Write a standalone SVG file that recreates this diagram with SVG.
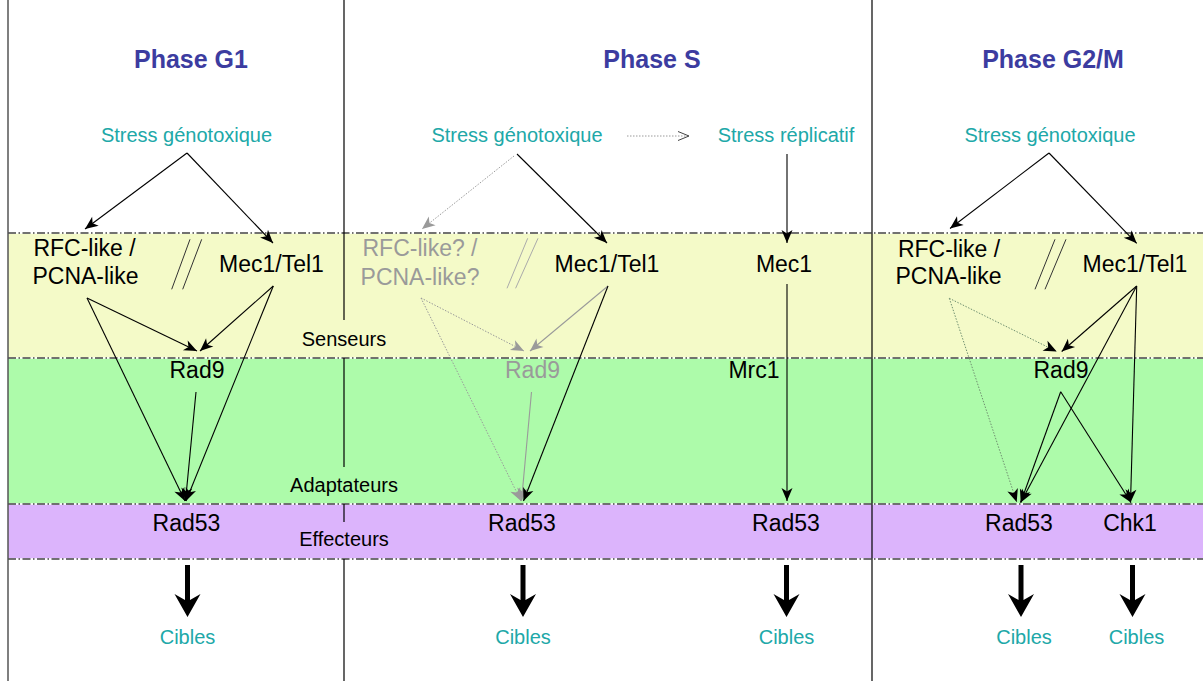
<svg xmlns="http://www.w3.org/2000/svg" width="1203" height="681" viewBox="0 0 1203 681">
<style>
text{font-family:"Liberation Sans",Arial,sans-serif;text-anchor:middle}
.title{font-size:25px;font-weight:bold;fill:#3c3ca0}
.stress{font-size:20px;fill:#20a8a8}
.lbl{font-size:23px;fill:#000}
.gray{font-size:23px;fill:#9a9a9a}
.band{font-size:20px;fill:#000}
.c{fill:none;stroke:#000;stroke-width:1.1}
.cg{fill:none;stroke:#9a9a9a;stroke-width:1.1}
.dot{fill:none;stroke:#9a9a9a;stroke-width:1;stroke-dasharray:1.5 1.5}
.dotd{fill:none;stroke:#6f8f6f;stroke-width:1;stroke-dasharray:1.5 1.5}
.sl{stroke:#333;stroke-width:1}
.slg{stroke:#aaa;stroke-width:1}
.bnd{stroke:#fff;stroke-width:1.5}
.dash{stroke:#444;stroke-width:1.3;stroke-dasharray:8 2.5 1.5 2.5}
.div{stroke:#000;stroke-width:1.2}
</style>
<defs>
<marker id="ah" markerUnits="userSpaceOnUse" markerWidth="14" markerHeight="12" refX="13" refY="5.5" orient="auto" overflow="visible">
<path d="M0,0 L13,5.5 L0,11 L3.5,5.5 z" fill="#000"/>
</marker>
<marker id="ahg" markerUnits="userSpaceOnUse" markerWidth="14" markerHeight="12" refX="13" refY="5.5" orient="auto" overflow="visible">
<path d="M0,0 L13,5.5 L0,11 L3.5,5.5 z" fill="#9a9a9a"/>
</marker>
<marker id="aho" markerUnits="userSpaceOnUse" markerWidth="12" markerHeight="10" refX="11" refY="4.5" orient="auto" overflow="visible">
<path d="M0,0 L11,4.5 L0,9" fill="none" stroke="#444" stroke-width="1"/>
</marker>
</defs>
<rect width="1203" height="681" fill="#fff"/>
<g id="bands">
<rect x="8" y="233" width="1195" height="125" fill="#f4fac8"/>
<rect x="8" y="358" width="1195" height="146" fill="#adfbaa"/>
<rect x="8" y="504" width="1195" height="55" fill="#dcb4fc"/>
<g>
<line class="bnd" x1="8" y1="233" x2="1203" y2="233"/>
<line class="bnd" x1="8" y1="358" x2="1203" y2="358"/>
<line class="bnd" x1="8" y1="504" x2="1203" y2="504"/>
<line class="bnd" x1="8" y1="559" x2="1203" y2="559"/>
<line class="dash" x1="8" y1="233" x2="1203" y2="233"/>
<line class="dash" x1="8" y1="358" x2="1203" y2="358"/>
<line class="dash" x1="8" y1="504" x2="1203" y2="504"/>
<line class="dash" x1="8" y1="559" x2="1203" y2="559"/>
</g>
</g>
<g id="dividers">
<line x1="8" y1="0" x2="8" y2="681" stroke="#555" stroke-width="1.5"/>
<line class="div" x1="344" y1="0" x2="344" y2="320"/>
<line class="div" x1="344" y1="358" x2="344" y2="467"/>
<line class="div" x1="344" y1="504" x2="344" y2="522"/>
<line class="div" x1="344" y1="559" x2="344" y2="681"/>
<line class="div" x1="872" y1="0" x2="872" y2="681"/>
</g>
<g id="band-labels">
<text class="band" x="344" y="346">Senseurs</text>
<text class="band" x="344" y="492">Adaptateurs</text>
<text class="band" x="344" y="546">Effecteurs</text>
</g>
<g id="titles">
<text class="title" x="191" y="68">Phase G1</text>
<text class="title" x="652" y="68">Phase S</text>
<text class="title" x="1053" y="68">Phase G2/M</text>
</g>
<!-- G1 nodes -->
<g id="g1-stress"><text class="stress" x="186.5" y="142">Stress génotoxique</text></g>
<g id="g1-rfc"><text class="lbl" x="84.5" y="256">RFC-like /</text><text class="lbl" x="85.5" y="284">PCNA-like</text></g>
<g id="g1-sep"><line class="sl" x1="171.7" y1="289.3" x2="190" y2="239.3"/><line class="sl" x1="182.7" y1="289.3" x2="201.7" y2="239.3"/></g>
<g id="g1-mec1tel1"><text class="lbl" x="271.5" y="272">Mec1/Tel1</text></g>
<g id="g1-rad9"><text class="lbl" x="197" y="378">Rad9</text></g>
<g id="g1-rad53"><text class="lbl" x="186.5" y="530.5">Rad53</text></g>
<g id="g1-cibles"><text class="stress" x="187.5" y="644">Cibles</text></g>
<!-- S nodes -->
<g id="s-stress"><text class="stress" x="517" y="142">Stress génotoxique</text></g>
<g id="s-stressrep"><text class="stress" x="786" y="142">Stress réplicatif</text></g>
<g id="s-rfc"><text class="gray" x="420" y="256">RFC-like? /</text><text class="gray" x="420" y="284.5">PCNA-like?</text></g>
<g id="s-sep"><line class="slg" x1="507" y1="288.3" x2="527.7" y2="238.3"/><line class="slg" x1="515.6" y1="288.3" x2="538" y2="238.3"/></g>
<g id="s-mec1tel1"><text class="lbl" x="607" y="272">Mec1/Tel1</text></g>
<g id="s-mec1"><text class="lbl" x="784" y="272">Mec1</text></g>
<g id="s-rad9"><text class="gray" x="532.5" y="378">Rad9</text></g>
<g id="s-mrc1"><text class="lbl" x="754" y="378">Mrc1</text></g>
<g id="s-rad53a"><text class="lbl" x="522" y="530.5">Rad53</text></g>
<g id="s-rad53b"><text class="lbl" x="786" y="530.5">Rad53</text></g>
<g id="s-cibles-a"><text class="stress" x="523" y="644">Cibles</text></g>
<g id="s-cibles-b"><text class="stress" x="786.5" y="644">Cibles</text></g>
<!-- G2/M nodes -->
<g id="g2-stress"><text class="stress" x="1050" y="142">Stress génotoxique</text></g>
<g id="g2-rfc"><text class="lbl" x="949" y="256.5">RFC-like /</text><text class="lbl" x="948.5" y="284">PCNA-like</text></g>
<g id="g2-sep"><line class="sl" x1="1035" y1="289.3" x2="1055" y2="239.3"/><line class="sl" x1="1045" y1="289.3" x2="1066" y2="239.3"/></g>
<g id="g2-mec1tel1"><text class="lbl" x="1135" y="272">Mec1/Tel1</text></g>
<g id="g2-rad9"><text class="lbl" x="1061" y="378">Rad9</text></g>
<g id="g2-rad53"><text class="lbl" x="1019" y="530.5">Rad53</text></g>
<g id="g2-chk1"><text class="lbl" x="1130" y="530.5">Chk1</text></g>
<g id="g2-cibles-a"><text class="stress" x="1024" y="644">Cibles</text></g>
<g id="g2-cibles-b"><text class="stress" x="1136.5" y="644">Cibles</text></g>
<g id="connectors">
<!-- G1 -->
<line class="c" x1="187" y1="153" x2="85" y2="229" marker-end="url(#ah)"/>
<line class="c" x1="187" y1="153" x2="273" y2="243" marker-end="url(#ah)"/>
<line class="c" x1="87" y1="298" x2="197" y2="351" marker-end="url(#ah)"/>
<line class="c" x1="87" y1="298" x2="185" y2="501" marker-end="url(#ah)"/>
<line class="c" x1="273.3" y1="286" x2="200" y2="351" marker-end="url(#ah)"/>
<line class="c" x1="273.3" y1="286" x2="186" y2="501" marker-end="url(#ah)"/>
<line class="c" x1="196" y1="392" x2="185.5" y2="501" marker-end="url(#ah)"/>
<!-- S -->
<line class="dot" x1="627" y1="136" x2="689" y2="136" marker-end="url(#aho)"/>
<line class="dot" x1="514" y1="156" x2="422" y2="229" marker-end="url(#ahg)"/>
<line class="c" x1="517" y1="154" x2="607" y2="243" marker-end="url(#ah)"/>
<line class="c" x1="787" y1="154" x2="787" y2="243" marker-end="url(#ah)"/>
<line class="dot" x1="421" y1="298" x2="524" y2="351" marker-end="url(#ahg)"/>
<line class="dot" x1="421" y1="298" x2="521" y2="501" marker-end="url(#ahg)"/>
<line class="cg" x1="608" y1="286" x2="530" y2="351" marker-end="url(#ahg)"/>
<line class="cg" x1="531.5" y1="392" x2="521.5" y2="501" marker-end="url(#ahg)"/>
<line class="c" x1="608" y1="286" x2="523.5" y2="501" marker-end="url(#ah)"/>
<line class="c" x1="787" y1="284" x2="787" y2="501" marker-end="url(#ah)"/>
<!-- G2/M -->
<line class="c" x1="1049" y1="153" x2="950" y2="228.5" marker-end="url(#ah)"/>
<line class="c" x1="1049" y1="153" x2="1136.7" y2="243.3" marker-end="url(#ah)"/>
<line class="dotd" x1="949.3" y1="298.3" x2="1056.7" y2="351.5" marker-end="url(#ah)"/>
<line class="dotd" x1="949.3" y1="298.3" x2="1016.7" y2="502" marker-end="url(#ah)"/>
<line class="c" x1="1136.7" y1="286" x2="1061.7" y2="351.5" marker-end="url(#ah)"/>
<line class="c" x1="1136.7" y1="286" x2="1020.7" y2="502.5" marker-end="url(#ah)"/>
<line class="c" x1="1136.7" y1="286" x2="1130.5" y2="502.5" marker-end="url(#ah)"/>
<line class="c" x1="1060.7" y1="391.7" x2="1020.7" y2="502.5" marker-end="url(#ah)"/>
<line class="c" x1="1060.7" y1="391.7" x2="1131" y2="502.5" marker-end="url(#ah)"/>
<!-- fat arrows to Cibles -->
<path d="M185,565 h5 v35 l10.5,-6 l-13,23 l-13,-23 l10.5,6 z" fill="#000" transform="translate(0,0)"/>
<path d="M520.5,565 h5 v35 l10.5,-6 l-13,23 l-13,-23 l10.5,6 z" fill="#000"/>
<path d="M784,565 h5 v35 l10.5,-6 l-13,23 l-13,-23 l10.5,6 z" fill="#000"/>
<path d="M1018.5,565 h5 v35 l10.5,-6 l-13,23 l-13,-23 l10.5,6 z" fill="#000"/>
<path d="M1130,565 h5 v35 l10.5,-6 l-13,23 l-13,-23 l10.5,6 z" fill="#000"/>
</g>
</svg>
